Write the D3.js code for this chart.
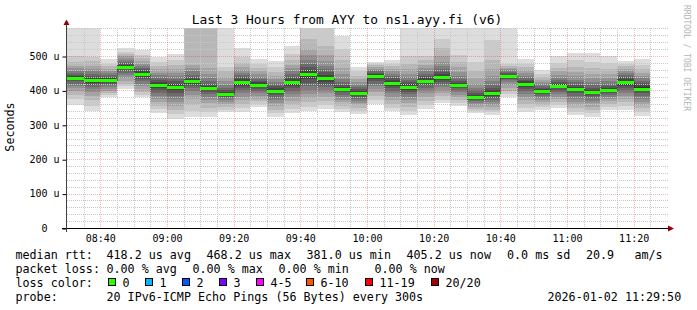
<!DOCTYPE html>
<html>
<head>
<meta charset="utf-8">
<script src="https://cdn.jsdelivr.net/npm/d3@7"></script>
<style>
    body { margin: 0; background: #fff; }
    svg { display: block; font-family: "DejaVu Sans Mono", monospace; }
</style>
</head>
<body>
<div id="smoke-chart"></div>
<script>
const chartTitle = "Last 3 Hours from AYY to ns1.ayy.fi (v6)";
const yAxisTitle = "Seconds";
const watermark = "RRDTOOL / TOBI OETIKER";

// first 5 minute bin, graph shows 3 hours
const firstBin = "2026-01-02 08:30";
const binMinutes = 5;
const rangeMinutes = 180;

// median rtt per bin (us)
const medianRtt = [436, 429, 429, 468.2, 448, 417, 410, 426, 406, 389, 423, 416, 399, 424, 448, 436, 403, 392,
    441, 422, 410, 428, 438, 415, 381.0, 391, 441, 418, 398, 412, 403, 395, 401, 423, 405.2];

// lost pings per bin (of 20)
const lossCount = [0, 0, 0, 0, 0, 0, 0, 0, 0, 0, 0, 0, 0, 0, 0, 0, 0, 0,
    0, 0, 0, 0, 0, 0, 0, 0, 0, 0, 0, 0, 0, 0, 0, 0, 0];

// the 20 ping times of each bin (us)
const pingSamples = [
    [358, 375, 388, 398, 406, 414, 420, 426, 431, 434, 438, 442, 446, 451, 457, 464, 472, 482, 500, 600],
    [339, 355, 372, 385, 395, 403, 410, 416, 421, 426, 432, 437, 442, 448, 455, 463, 472, 485, 498, 600],
    [380, 386, 392, 398, 404, 410, 415, 420, 424, 427, 431, 435, 439, 444, 450, 456, 463, 470, 478, 490],
    [405, 412, 420, 428, 436, 444, 451, 457, 462, 466, 471, 475, 479, 483, 488, 493, 499, 505, 512, 522],
    [380, 388, 396, 405, 413, 420, 427, 433, 439, 445, 451, 456, 461, 466, 472, 478, 485, 493, 503, 517],
    [334, 345, 356, 366, 376, 385, 393, 400, 407, 413, 419, 425, 431, 437, 444, 452, 461, 470, 482, 498],
    [318, 330, 342, 354, 365, 375, 385, 393, 400, 406, 413, 420, 427, 434, 442, 451, 461, 473, 488, 506],
    [322, 340, 358, 374, 387, 398, 407, 414, 419, 423, 429, 434, 439, 446, 455, 465, 475, 600, 620, 640],
    [322, 336, 350, 362, 372, 381, 389, 395, 400, 404, 408, 413, 419, 426, 435, 447, 466, 600, 620, 640],
    [336, 344, 352, 360, 367, 373, 378, 382, 386, 388, 391, 395, 400, 407, 416, 427, 440, 455, 468, 600],
    [336, 348, 360, 372, 382, 392, 400, 407, 413, 419, 426, 432, 438, 444, 451, 459, 468, 480, 498, 523],
    [352, 360, 368, 376, 384, 391, 398, 404, 409, 414, 418, 423, 428, 434, 440, 447, 455, 464, 476, 491],
    [324, 334, 344, 354, 363, 371, 379, 386, 392, 397, 401, 406, 412, 418, 425, 433, 442, 453, 467, 486],
    [333, 345, 357, 369, 380, 390, 399, 407, 414, 420, 427, 433, 440, 447, 455, 464, 475, 488, 505, 529],
    [339, 352, 365, 378, 390, 401, 412, 422, 432, 441, 452, 460, 468, 477, 488, 502, 520, 548, 600, 620],
    [346, 358, 370, 381, 391, 400, 409, 417, 425, 432, 439, 446, 454, 462, 472, 485, 502, 530, 600, 620],
    [336, 346, 356, 365, 373, 381, 388, 394, 398, 401, 405, 410, 416, 424, 434, 447, 464, 488, 520, 559],
    [331, 340, 349, 357, 364, 370, 376, 381, 386, 390, 394, 398, 403, 409, 416, 424, 433, 443, 455, 468],
    [360, 372, 384, 395, 405, 413, 420, 427, 433, 438, 443, 447, 451, 455, 459, 463, 468, 473, 478, 484],
    [339, 350, 361, 372, 382, 391, 399, 406, 412, 418, 425, 431, 437, 443, 449, 455, 462, 470, 478, 488],
    [329, 340, 351, 362, 372, 381, 389, 396, 402, 407, 412, 418, 424, 431, 439, 449, 461, 478, 500, 600],
    [346, 358, 370, 381, 391, 400, 408, 415, 421, 426, 430, 435, 441, 448, 456, 465, 475, 487, 500, 600],
    [363, 373, 383, 393, 402, 410, 417, 423, 429, 435, 441, 447, 454, 462, 472, 484, 500, 522, 550, 600],
    [356, 364, 372, 380, 388, 395, 401, 406, 410, 413, 417, 421, 427, 434, 443, 454, 467, 483, 502, 600],
    [333, 340, 347, 353, 359, 364, 369, 373, 377, 380, 383, 387, 392, 399, 408, 420, 436, 456, 482, 600],
    [328, 336, 344, 352, 359, 366, 372, 378, 383, 388, 394, 400, 407, 416, 428, 443, 462, 488, 547, 600],
    [381, 390, 399, 408, 416, 423, 429, 434, 438, 440, 443, 446, 450, 454, 458, 462, 466, 471, 478, 600],
    [338, 349, 360, 371, 381, 390, 398, 405, 411, 416, 421, 426, 431, 437, 443, 450, 458, 467, 477, 490],
    [343, 351, 359, 366, 373, 379, 385, 390, 394, 397, 400, 404, 408, 413, 418, 424, 431, 439, 448, 459],
    [348, 357, 366, 374, 382, 389, 395, 401, 406, 410, 414, 419, 424, 430, 437, 445, 455, 466, 481, 500],
    [328, 338, 348, 358, 367, 376, 384, 391, 397, 401, 405, 410, 416, 423, 431, 441, 453, 468, 487, 510],
    [324, 334, 344, 353, 362, 370, 377, 383, 389, 393, 397, 402, 408, 415, 424, 435, 448, 464, 484, 508],
    [343, 352, 360, 368, 375, 381, 387, 392, 396, 399, 403, 407, 412, 418, 426, 436, 448, 462, 479, 500],
    [343, 354, 365, 375, 384, 392, 400, 407, 413, 419, 427, 433, 439, 445, 451, 457, 463, 470, 477, 486],
    [326, 337, 348, 358, 367, 376, 384, 391, 397, 402, 409, 415, 421, 428, 435, 443, 452, 462, 475, 490]
];

const yTickValues = [0, 100, 200, 300, 400, 500];
const yTickLabels = ["0  ", "100 u", "200 u", "300 u", "400 u", "500 u"];
const xTickLabels = ["08:40", "09:00", "09:20", "09:40", "10:00", "10:20", "10:40", "11:00", "11:20"];

const rttSummary = [418.2, 468.2, 381.0, 405.2];
const rttSummaryNames = ["avg", "max", "min", "now"];
const rttSd = 0.0;
const amPerSec = 20.9;
const lossSummary = [0.00, 0.00, 0.00, 0.00];
const lossSummaryNames = ["avg", "max", "min", "now"];
const lossColorLabels = ["0", "1", "2", "3", "4-5", "6-10", "11-19", "20/20"];
const lossColorMax = [0, 1, 2, 3, 5, 10, 19, 20];
const lossColors = ["#26ff00", "#00b8ff", "#0059ff", "#7e00ff", "#ff00ff", "#ff5500", "#ff0000", "#a10000"];
const probeText = "20 IPv6-ICMP Echo Pings (56 Bytes) every 300s";
const stampText = "2026-01-02 11:29:50";

class SmokeVis {

    constructor(_parentElement) {
        this.parentElement = _parentElement;
        this.initVis();
    }

    initVis() {
        let vis = this;

        vis.margin = {top: 28, right: 30, bottom: 82, left: 67};
        vis.width = 697 - vis.margin.left - vis.margin.right;
        vis.height = 310 - vis.margin.top - vis.margin.bottom;

        vis.svg = d3.select("#" + vis.parentElement).append("svg")
            .attr("width", 697)
            .attr("height", 310);

        vis.g = vis.svg.append("g")
            .attr("transform", "translate(" + vis.margin.left + "," + vis.margin.top + ")");

        vis.parseTime = d3.timeParse("%Y-%m-%d %H:%M");
        vis.t0 = vis.parseTime(firstBin);

        vis.xScale = d3.scaleTime()
            .domain([vis.t0, d3.timeMinute.offset(vis.t0, rangeMinutes)])
            .range([0, vis.width]);

        // top edge of the graph sits at ~581 us
        vis.yScale = d3.scaleLinear()
            .domain([0, 581.4])
            .range([vis.height, 0]);

        vis.svg.append("defs").append("clipPath").attr("id", "plot-clip")
            .append("rect")
            .attr("x", 0).attr("y", 0)
            .attr("width", vis.width).attr("height", vis.height);

        vis.wrangleData();
    }

    wrangleData() {
        let vis = this;

        vis.bins = medianRtt.map((m, i) => {
            let start = d3.timeMinute.offset(vis.t0, i * binMinutes);
            return {
                start: start,
                end: d3.timeMinute.offset(start, binMinutes),
                median: m,
                loss: lossCount[i],
                pings: pingSamples[i].slice().sort(d3.ascending)
            };
        });

        vis.updateVis();
    }

    lossColor(loss) {
        let idx = lossColorMax.findIndex(v => loss <= v);
        return lossColors[idx];
    }

    updateVis() {
        let vis = this;
        let px = v => Math.round(v) + 0.5;

        // smoke: pairs of pings from outside in, darker towards the middle
        let smoke = vis.g.append("g").attr("clip-path", "url(#plot-clip)");
        vis.bins.forEach(bin => {
            let x0 = Math.round(vis.xScale(bin.start));
            let x1 = Math.round(vis.xScale(bin.end));
            for (let k = 0; k < 10; k++) {
                let shade = 19 * (9 - k) + 50;
                let yTop = Math.round(vis.yScale(bin.pings[19 - k]));
                let yBot = Math.round(vis.yScale(bin.pings[k]));
                smoke.append("rect")
                    .attr("x", x0)
                    .attr("y", yTop)
                    .attr("width", x1 - x0)
                    .attr("height", Math.max(0, yBot - yTop))
                    .attr("fill", d3.rgb(shade, shade, shade))
                    .attr("shape-rendering", "crispEdges");
            }
        });

        // grid
        let grid = vis.g.append("g");
        let majorTimes = xTickLabels.map(l => vis.parseTime(firstBin.slice(0, 11) + l));
        let majorSet = new Set(majorTimes.map(t => +t));
        let minorTimes = d3.timeMinute.every(binMinutes)
            .range(d3.timeMinute.offset(vis.t0, binMinutes), d3.timeMinute.offset(vis.t0, rangeMinutes))
            .filter(t => !majorSet.has(+t));
        let minorValues = d3.range(20, 581, 20).filter(v => v % 100 !== 0);
        let majorValues = yTickValues.filter(v => v > 0);
        let minorColor = "#c8c8c8";
        let majorColor = "rgba(255,0,0,0.3)";

        grid.selectAll(".minor-x").data(minorTimes).enter().append("line")
            .attr("x1", d => px(vis.xScale(d))).attr("x2", d => px(vis.xScale(d)))
            .attr("y1", 0).attr("y2", vis.height)
            .attr("stroke", minorColor).attr("stroke-dasharray", "1,1");
        grid.selectAll(".minor-y").data(minorValues).enter().append("line")
            .attr("x1", 0).attr("x2", vis.width + 1)
            .attr("y1", d => px(vis.yScale(d))).attr("y2", d => px(vis.yScale(d)))
            .attr("stroke", minorColor).attr("stroke-dasharray", "1,1");
        grid.selectAll(".major-x").data(majorTimes).enter().append("line")
            .attr("x1", d => px(vis.xScale(d))).attr("x2", d => px(vis.xScale(d)))
            .attr("y1", 0).attr("y2", vis.height)
            .attr("stroke", majorColor).attr("stroke-dasharray", "1,1");
        grid.selectAll(".major-y").data(majorValues).enter().append("line")
            .attr("x1", 0).attr("x2", vis.width + 1)
            .attr("y1", d => px(vis.yScale(d))).attr("y2", d => px(vis.yScale(d)))
            .attr("stroke", majorColor).attr("stroke-dasharray", "1,1");

        // median: thin dark step line, then a coloured bar per bin
        let pts = vis.bins.map(b => [Math.round(vis.xScale(b.start)), px(vis.yScale(b.median))]);
        let last = vis.bins[vis.bins.length - 1];
        pts.push([Math.round(vis.xScale(last.end)), px(vis.yScale(last.median))]);
        vis.g.append("path")
            .attr("d", d3.line().curve(d3.curveStepAfter)(pts.map(p => [p[0] + 0.5, p[1]])))
            .attr("fill", "none")
            .attr("stroke", "#202020")
            .attr("stroke-dasharray", "1,1");

        vis.g.selectAll(".median").data(vis.bins).enter().append("line")
            .attr("x1", d => Math.round(vis.xScale(d.start)))
            .attr("x2", d => Math.round(vis.xScale(d.end)))
            .attr("y1", d => px(vis.yScale(d.median)))
            .attr("y2", d => px(vis.yScale(d.median)))
            .attr("stroke", d => vis.lossColor(d.loss))
            .attr("stroke-width", 3);

        // axes
        let xAxis = d3.axisBottom(vis.xScale)
            .tickValues(majorTimes)
            .tickFormat(d3.timeFormat("%H:%M"))
            .tickSize(0)
            .tickPadding(6);
        vis.g.append("g")
            .attr("transform", "translate(0," + (vis.height + 0.5) + ")")
            .call(xAxis)
            .call(g => g.select(".domain").remove())
            .selectAll("text")
            .attr("font-family", "DejaVu Sans Mono")
            .attr("font-size", 10)
            .attr("fill", "#000");

        let yAxis = d3.axisLeft(vis.yScale)
            .tickValues(yTickValues)
            .tickFormat((d, i) => yTickLabels[i])
            .tickSize(4)
            .tickPadding(3);
        vis.g.append("g")
            .attr("transform", "translate(-0.5,0)")
            .call(yAxis)
            .call(g => g.select(".domain").remove())
            .call(g => g.selectAll("line").attr("stroke", "#000").attr("transform", "translate(0,0.5)"))
            .selectAll("text")
            .attr("xml:space", "preserve")
            .style("white-space", "pre")
            .attr("font-family", "DejaVu Sans Mono")
            .attr("font-size", 10)
            .attr("fill", "#000");

        vis.g.append("line")
            .attr("x1", -5).attr("x2", vis.width + 1)
            .attr("y1", vis.height + 0.5).attr("y2", vis.height + 0.5)
            .attr("stroke", "#000");
        vis.g.append("line")
            .attr("x1", -0.5).attr("x2", -0.5)
            .attr("y1", vis.height + 4).attr("y2", -3)
            .attr("stroke", "#404040");
        vis.g.append("path")
            .attr("d", `M${vis.width + 1},${vis.height - 2.5}L${vis.width + 7},${vis.height + 0.5}L${vis.width + 1},${vis.height + 3.5}Z`)
            .attr("fill", "#900000");
        vis.g.append("path")
            .attr("d", "M-3.5,-3L-0.5,-8.5L2.5,-3Z")
            .attr("fill", "#900000");

        // titles
        vis.svg.append("text")
            .attr("x", 347).attr("y", 24)
            .attr("text-anchor", "middle")
            .attr("font-size", 12.9)
            .text(chartTitle);

        vis.svg.append("text")
            .attr("transform", "translate(14,127) rotate(-90)")
            .attr("text-anchor", "middle")
            .attr("font-size", 11.7)
            .text(yAxisTitle);

        vis.svg.append("text")
            .attr("transform", "translate(684,5) rotate(90)")
            .attr("font-size", 8)
            .attr("fill", "#b4b4b4")
            .text(watermark);

        // legend
        let legend = vis.svg.append("g")
            .attr("font-size", 11.7)
            .attr("fill", "#000");
        let addText = (x, y, s) => legend.append("text")
            .attr("x", x).attr("y", y)
            .attr("xml:space", "preserve")
            .style("white-space", "pre")
            .text(s);

        let rows = [258.5, 272.5, 286.5, 300.5];

        addText(15.5, rows[0], "median rtt:");
        [106.5, 206.5, 306.5, 406.5].forEach((x, i) =>
            addText(x, rows[0], rttSummary[i].toFixed(1) + " us " + rttSummaryNames[i]));
        addText(507, rows[0], rttSd.toFixed(1) + " ms sd");
        addText(586, rows[0], amPerSec.toFixed(1));
        addText(634.5, rows[0], "am/s");

        addText(15.5, rows[1], "packet loss:");
        [106.5, 192.5, 278.5, 374.5].forEach((x, i) =>
            addText(x, rows[1], lossSummary[i].toFixed(2) + " % " + lossSummaryNames[i]));

        addText(15.5, rows[2], "loss color:");
        [108, 145, 182, 219, 256, 306, 365, 431].forEach((x, i) => {
            legend.append("rect")
                .attr("x", x + 0.5).attr("y", 278.5)
                .attr("width", 7).attr("height", 7)
                .attr("fill", lossColors[i])
                .attr("stroke", "#000");
            addText(x + 14.5, rows[2], lossColorLabels[i]);
        });

        addText(15.5, rows[3], "probe:");
        addText(106.5, rows[3], probeText);
        addText(547.5, rows[3], stampText);
    }
}

new SmokeVis("smoke-chart");
</script>
</body>
</html>
